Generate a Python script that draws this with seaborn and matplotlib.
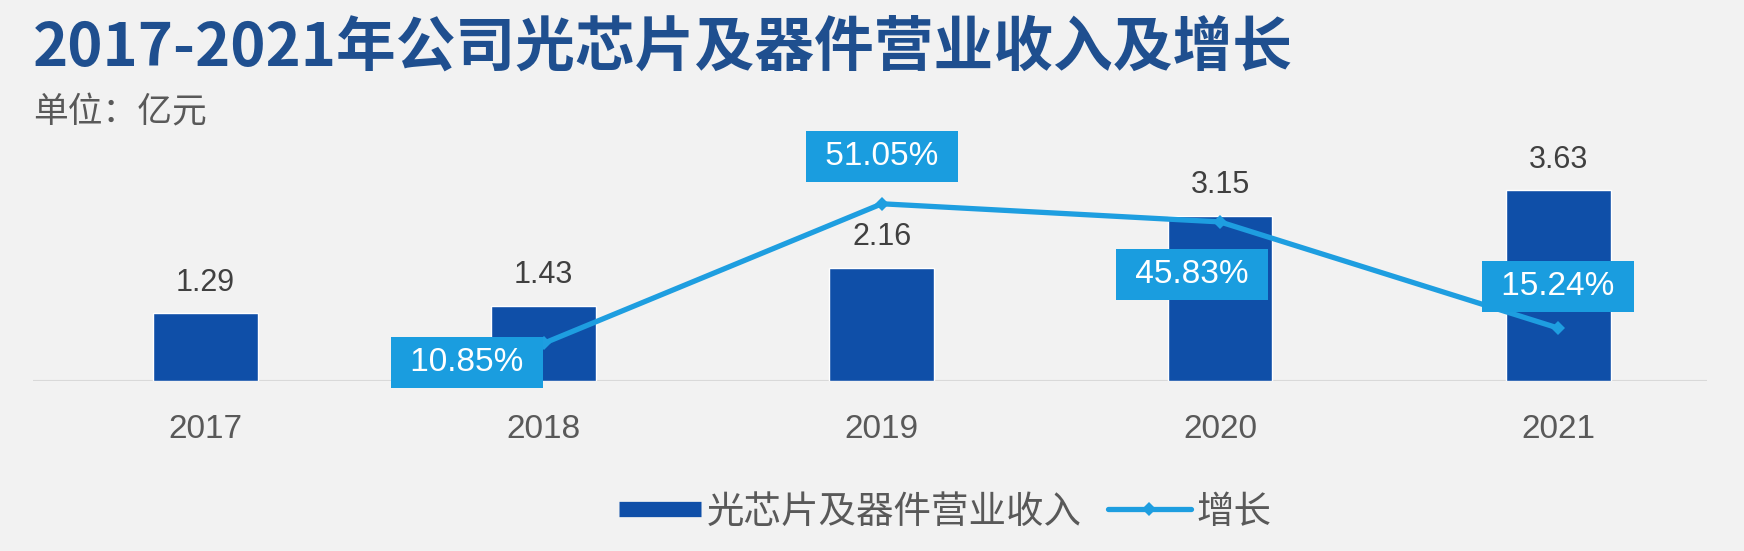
import matplotlib
matplotlib.use("Agg")
import matplotlib.pyplot as plt
import seaborn as sns
import pandas as pd
from matplotlib.lines import Line2D

years = ["2017", "2018", "2019", "2020", "2021"]
revenue = [1.29, 1.43, 2.16, 3.15, 3.63]
growth_years = ["2018", "2019", "2020", "2021"]
growth = [10.85, 51.05, 45.83, 15.24]

title = "2017-2021年公司光芯片及器件营业收入及增长"
unit = "单位：亿元"
bar_name = "光芯片及器件营业收入"
line_name = "增长"

BG = "#f2f2f2"
BAR = "#0f4fa8"
LINE = "#1e9ee0"
BOX = "#1a9ddf"
NUMFONT = ["Liberation Sans", "DejaVu Sans"]

sns.set_theme(style="white")
plt.rcParams["font.family"] = ["Noto Sans CJK SC", "DejaVu Sans"]

fig = plt.figure(figsize=(17.44, 5.51), dpi=100, facecolor=BG)
ax = fig.add_axes([33 / 1744, 1 - 381 / 551, 1674 / 1744, 251 / 551])
ax.set_facecolor("none")

df = pd.DataFrame({"year": years, "revenue": revenue})
sns.barplot(data=df, x="year", y="revenue", color=BAR, width=0.31,
            saturation=1, ax=ax, zorder=2)
ax.set_xlim(-0.51, 4.44)
ax.set_ylim(0, 4.78)
for sp in ax.spines.values():
    sp.set_visible(False)
ax.axhline(0, color="#d9d9d9", lw=1.5, zorder=1)
ax.set_yticks([])
ax.set_xlabel("")
ax.set_ylabel("")
ax.tick_params(axis="x", length=0, pad=24, labelsize=24, labelcolor="#595959")
for lab in ax.get_xticklabels():
    lab.set_family(NUMFONT)

for i, v in enumerate(revenue):
    ax.text(i, v + 0.58, f"{v:.2f}", ha="center", va="center",
            fontsize=22, color="#404040", zorder=5, family=NUMFONT)

ax2 = ax.twinx()
ax2.set_facecolor("none")
xpos = [years.index(y) for y in growth_years]
gdf = pd.DataFrame({"x": xpos, "growth": growth})
sns.lineplot(data=gdf, x="x", y="growth", color=LINE, lw=3.8, marker="D",
             markersize=7, markeredgewidth=0, ax=ax2, zorder=3)
ax2.set_ylim(0, 72.3)
ax2.set_yticks([])
ax2.set_xlabel("")
ax2.set_ylabel("")
for sp in ax2.spines.values():
    sp.set_visible(False)
ax2.set_xlim(-0.51, 4.44)

# label offsets (points) for growth boxes
offsets = [(-55, -14), (0, 34), (-20, -38), (0, 30)]
for (x, g), (dx, dy) in zip(zip(xpos, growth), offsets):
    ax2.annotate(f" {g:.2f}% ", (x, g), xytext=(dx, dy), textcoords="offset points",
                 ha="center", va="center", fontsize=24, color="white", zorder=6,
                 family=NUMFONT,
                 bbox=dict(boxstyle="square,pad=0.3", fc=BOX, ec="none"))

fig.text(33 / 1744, 1 - 49 / 551, title, fontsize=43, fontweight="bold",
         color="#1f4f8f", ha="left", va="center")
fig.text(33 / 1744, 1 - 113 / 551, unit, fontsize=25, color="#595959",
         ha="left", va="center")

handles = [Line2D([0], [0], color=BAR, lw=11, solid_capstyle="butt"),
           Line2D([0], [0], color=LINE, lw=3.8, marker="D", markersize=7,
                  markeredgewidth=0)]
fig.legend(handles, [bar_name, line_name], loc="center",
           bbox_to_anchor=(945 / 1744, 1 - 512 / 551), ncol=2, frameon=False,
           fontsize=27, labelcolor="#595959", handlelength=2.2, columnspacing=0.7,
           handletextpad=0.15)

fig.savefig("out.png", dpi=100, facecolor=BG)
